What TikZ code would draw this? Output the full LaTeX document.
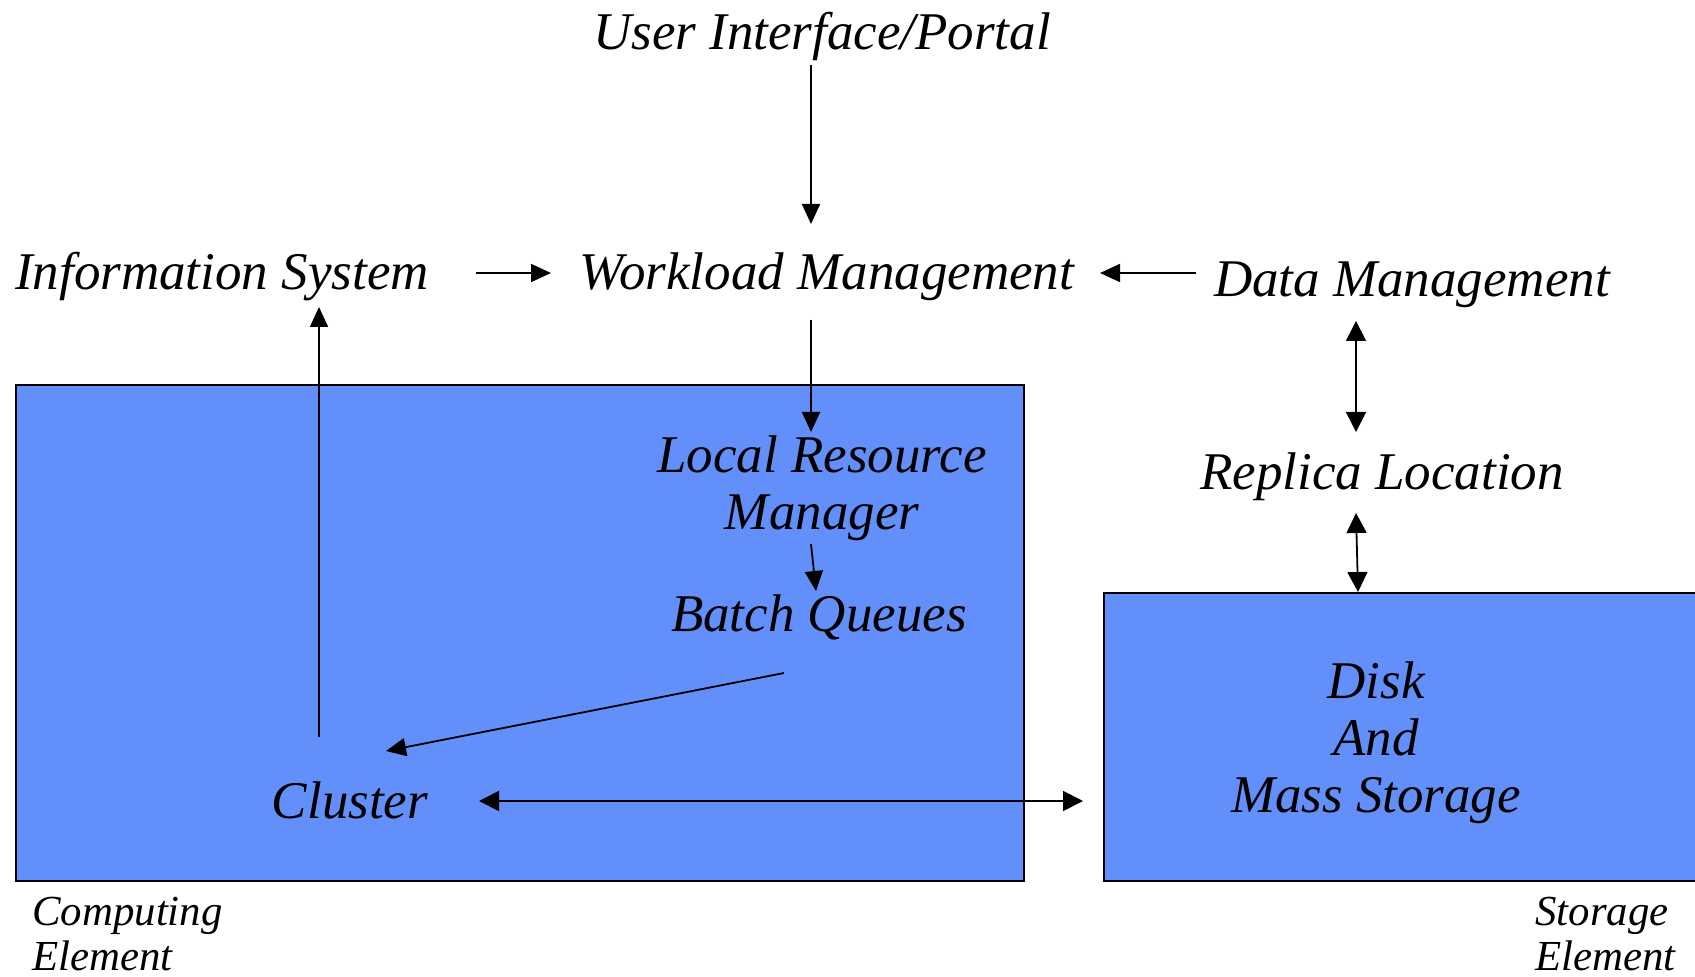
\documentclass[tikz,border=0pt]{standalone}
\usepackage{fontspec}
\setmainfont{Liberation Serif}
\usepackage{tikz}
\usetikzlibrary{arrows.meta, positioning, calc}
\definecolor{boxblue}{RGB}{99,143,250}
\definecolor{mydark}{RGB}{0,0,0}
\tikzset{
  comp/.style={font=\fontsize{26.5}{28.5}\selectfont\itshape,
    inner sep=0pt, anchor=base, align=center},
  elemtext/.style={font=\fontsize{21.4}{22.5}\selectfont\itshape,
    inner sep=0pt, anchor=base west, align=left},
  elembox/.style={rectangle, draw=mydark, fill=boxblue,
    line width=1pt, anchor=north west, inner sep=0pt},
  arrow/.style={-{Triangle[length=10pt, width=9pt]}, line width=0.9pt, color=mydark},
  dblarrow/.style={{Triangle[length=10pt, width=10pt]}-{Triangle[length=10pt, width=10pt]},
    line width=0.9pt, color=mydark}
}

\begin{document}
\begin{tikzpicture}[x=0.5pt, y=-0.5pt]
  \useasboundingbox (0,0) rectangle (1695,977);
  % Element boxes
  \node[elembox, minimum width=504pt, minimum height=248pt] (cebox) at (15,384) {};
  \node[elembox, minimum width=297pt, minimum height=144pt] (sebox) at (1103,592) {};
  \node[elemtext] (ce) at (32,970) {Computing\\Element};
  \node[elemtext] (se) at (1535,970) {Storage\\Element};
  % Services
  \node[comp] (ui)  at (822,50)   {User Interface/Portal};
  \node[comp] (is)  at (222,290)  {Information System};
  \node[comp] (wm)  at (827,290)  {Workload Management};
  \node[comp] (dm)  at (1412,297) {Data Management};
  \node[comp] (rl)  at (1382,490) {Replica Location};
  \node[comp] (lrm) at (822,530)  {Local Resource\\Manager};
  \node[comp] (bq)  at (819,632)  {Batch Queues};
  \node[comp] (cl)  at (350,818)  {Cluster};
  \node[comp] (ds)  at (1376,812) {Disk\\And\\Mass Storage};
  % Job flow
  \draw[arrow] ($(ui.base)+(-11,15)$) -- ($(wm.base)+(-16,-66)$);
  \draw[arrow] ($(is.base)+(254,-17)$) -- ($(wm.base)+(-276,-17)$);
  \draw[arrow] ($(dm.base)+(-216,-24)$) -- ($(wm.base)+(273,-17)$);
  \draw[arrow] ($(wm.base)+(-16,30)$) -- ($(lrm.base)+(-11,-98)$);
  \draw[arrow] ($(lrm.base)+(-11,14)$) -- ($(bq.base)+(-3,-41)$);
  \draw[arrow] ($(bq.base)+(-35,41)$) -- ($(cl.base)+(36,-67)$);
  \draw[arrow] ($(cl.base)+(-31,-81)$) -- ($(is.base)+(97,17)$);
  % Data access
  \draw[dblarrow] ($(cl.base)+(129,-17)$) coordinate (clr) -- ([xshift=-10pt]clr -| sebox.west);
  \draw[dblarrow] ($(dm.base)+(-56,24)$) -- ($(rl.base)+(-26,-58)$);
  \draw[dblarrow] ($(rl.base)+(-26,23)$) -- ($(sebox.north)+(-43,0)$);
\end{tikzpicture}
\end{document}
